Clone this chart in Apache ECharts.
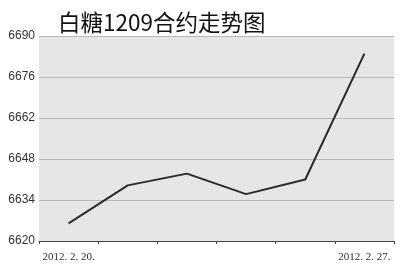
<!DOCTYPE html>
<html><head><meta charset="utf-8">
<script src="https://cdn.jsdelivr.net/npm/echarts@6/dist/echarts.min.js"></script>
<style>html,body{margin:0;padding:0;background:#fff}#c{width:400px;height:266px}</style>
</head><body><div id="c"></div>
<script>
var categories = ['2012. 2. 20.', '2012. 2. 21.', '2012. 2. 22.', '2012. 2. 23.', '2012. 2. 24.', '2012. 2. 27.'];
var prices = [6626, 6639, 6643, 6636, 6641, 6684];
var yTicks = [6620, 6634, 6648, 6662, 6676, 6690];
var titleText = '白糖1209合约走势图';

var chart = echarts.init(document.getElementById('c'), null, {renderer: 'canvas'});
chart.setOption({
  animation: false,
  title: {
    text: titleText, left: 53, top: 6,
    textStyle: {fontSize: 22.5, fontWeight: 'normal', color: '#111', fontFamily: 'Noto Sans CJK SC'}
  },
  grid: {left: 39, right: 6, top: 36, bottom: 25, show: true, backgroundColor: '#e6e6e6', borderWidth: 0, containLabel: false},
  xAxis: {
    type: 'category', data: categories, boundaryGap: true,
    axisLine: {lineStyle: {color: '#444', width: 1}},
    axisTick: {show: true, length: 3, lineStyle: {color: '#444'}, interval: 0},
    axisLabel: {
      interval: 0, margin: 11, color: '#333', fontSize: 11, fontFamily: 'Liberation Serif',
      formatter: function (v, i) { return (i === 0 || i === categories.length - 1) ? v : ''; }
    },
    splitLine: {show: false}
  },
  yAxis: {
    type: 'value', min: yTicks[0], max: yTicks[yTicks.length - 1], interval: yTicks[1] - yTicks[0],
    axisLine: {show: false}, axisTick: {show: false},
    axisLabel: {color: '#333', fontSize: 12, margin: 4, fontFamily: 'Liberation Sans Narrow, Liberation Sans',
      formatter: function (v) { return String(v); }},
    splitLine: {lineStyle: {color: '#b8b8b8', width: 1}}
  },
  series: [{
    type: 'line', data: prices, showSymbol: false, symbol: 'none',
    lineStyle: {color: '#2a2a2a', width: 2}
  }]
});
</script></body></html>
